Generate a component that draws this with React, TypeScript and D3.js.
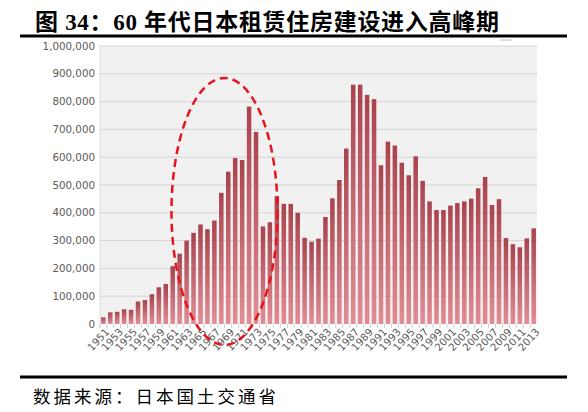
import { useMemo } from 'react';
import * as d3 from 'd3';

const title = '图 34：60 年代日本租赁住房建设进入高峰期';
const source = '数据来源：日本国土交通省';

const years = [
  1951, 1952, 1953, 1954, 1955, 1956, 1957, 1958, 1959, 1960,
  1961, 1962, 1963, 1964, 1965, 1966, 1967, 1968, 1969, 1970,
  1971, 1972, 1973, 1974, 1975, 1976, 1977, 1978, 1979, 1980,
  1981, 1982, 1983, 1984, 1985, 1986, 1987, 1988, 1989, 1990,
  1991, 1992, 1993, 1994, 1995, 1996, 1997, 1998, 1999, 2000,
  2001, 2002, 2003, 2004, 2005, 2006, 2007, 2008, 2009, 2010,
  2011, 2012, 2013,
];

const rentalStarts = [
  24000, 42000, 44000, 53000, 51000, 81000, 86000, 107000, 132000, 144000,
  208000, 253000, 300000, 328000, 358000, 341000, 372000, 472000, 548000, 597000,
  590000, 782000, 691000, 351000, 366000, 460000, 432000, 432000, 400000, 310000,
  296000, 307000, 385000, 452000, 518000, 631000, 861000, 861000, 824000, 809000,
  571000, 656000, 642000, 580000, 535000, 603000, 515000, 441000, 410000, 410000,
  426000, 435000, 441000, 451000, 488000, 529000, 428000, 449000, 309000, 287000,
  276000, 308000, 344000,
];

const yTicks = [0, 100000, 200000, 300000, 400000, 500000, 600000, 700000, 800000, 900000, 1000000];

const W = 588;
const H = 412;
const margin = { top: 46, right: 51, bottom: 88, left: 100 };

export default function App() {
  const innerW = W - margin.left - margin.right;
  const innerH = H - margin.top - margin.bottom;

  const x = useMemo(
    () => d3.scaleBand<number>().domain(years).range([0, innerW]).paddingInner(0.35).paddingOuter(0.15),
    [innerW],
  );
  const y = useMemo(() => d3.scaleLinear().domain([0, 1000000]).range([innerH, 0]), [innerH]);
  const fmt = d3.format(',');

  // highlighted 1960s period
  const ellipseCx = x(1965)! + x.bandwidth() / 2 + 24;
  const ellipseCy = y(405000);
  const ellipseRx = 53;
  const ellipseRy = y(0) - y(480000);

  return (
    <svg
      width={W}
      height={H}
      style={{ position: 'absolute', left: 0, top: 0, background: '#fff' }}
    >
      <defs>
        <linearGradient id="barGrad" x1="0" y1="0" x2="0" y2="1">
          <stop offset="0%" stopColor="#a9434d" />
          <stop offset="100%" stopColor="#e28c94" />
        </linearGradient>
      </defs>

      <text
        x={35}
        y={30}
        fontFamily="'Liberation Serif', 'Noto Sans CJK SC'"
        fontWeight="bold"
        fontSize={23}
        letterSpacing={0.7}
        fill="#000"
      >
        {title}
      </text>
      <line x1={20} x2={567} y1={36} y2={36} stroke="#000" strokeWidth={3} />
      <line x1={500} x2={512} y1={40} y2={40} stroke="#bbb" strokeWidth={1} />

      <g transform={`translate(${margin.left},${margin.top})`}>
        <rect x={0} y={0} width={innerW} height={innerH} fill="#f1f1f1" />
        {yTicks.map((t) => (
          <g key={t} transform={`translate(0,${y(t)})`}>
            {t > 0 && <line x1={0} x2={innerW} stroke="#d4d4d4" strokeWidth={1} />}
            <text
              x={-5}
              dy="0.35em"
              textAnchor="end"
              fontFamily="'DejaVu Sans'"
              fontSize={10.3}
              fill="#5a5a5a"
            >
              {fmt(t)}
            </text>
          </g>
        ))}
        <line x1={0} x2={0} y1={0} y2={innerH} stroke="#ddd" />

        {years.map((yr, i) => (
          <rect
            key={yr}
            x={x(yr)}
            y={y(rentalStarts[i])}
            width={x.bandwidth()}
            height={innerH - y(rentalStarts[i])}
            fill="url(#barGrad)"
          />
        ))}

        {years.map((yr) => (
          <line
            key={`t${yr}`}
            x1={x(yr)! - (x.step() - x.bandwidth()) / 2}
            x2={x(yr)! - (x.step() - x.bandwidth()) / 2}
            y1={innerH}
            y2={innerH + 4}
            stroke="#ccc"
          />
        ))}

        {years
          .filter((yr) => (yr - 1951) % 2 === 0)
          .map((yr) => {
            const cx = x(yr)! + x.bandwidth() / 2 + 4;
            const cy = innerH + 6;
            return (
              <text
                key={`l${yr}`}
                transform={`translate(${cx},${cy}) rotate(-47)`}
                textAnchor="end"
                dy="0.35em"
                fontFamily="'DejaVu Sans'"
                fontSize={10.3}
                fill="#5a5a5a"
              >
                {yr}
              </text>
            );
          })}

        <ellipse
          cx={ellipseCx}
          cy={ellipseCy}
          rx={ellipseRx}
          ry={ellipseRy}
          fill="none"
          stroke="#e8141c"
          strokeWidth={2.5}
          strokeDasharray="8,5"
        />
      </g>

      <line x1={20} x2={567} y1={377} y2={377} stroke="#000" strokeWidth={3} />
      <text
        x={33}
        y={403}
        fontFamily="'Noto Sans CJK SC'"
        fontSize={17.5}
        letterSpacing={3}
        fill="#000"
      >
        {source}
      </text>
    </svg>
  );
}
